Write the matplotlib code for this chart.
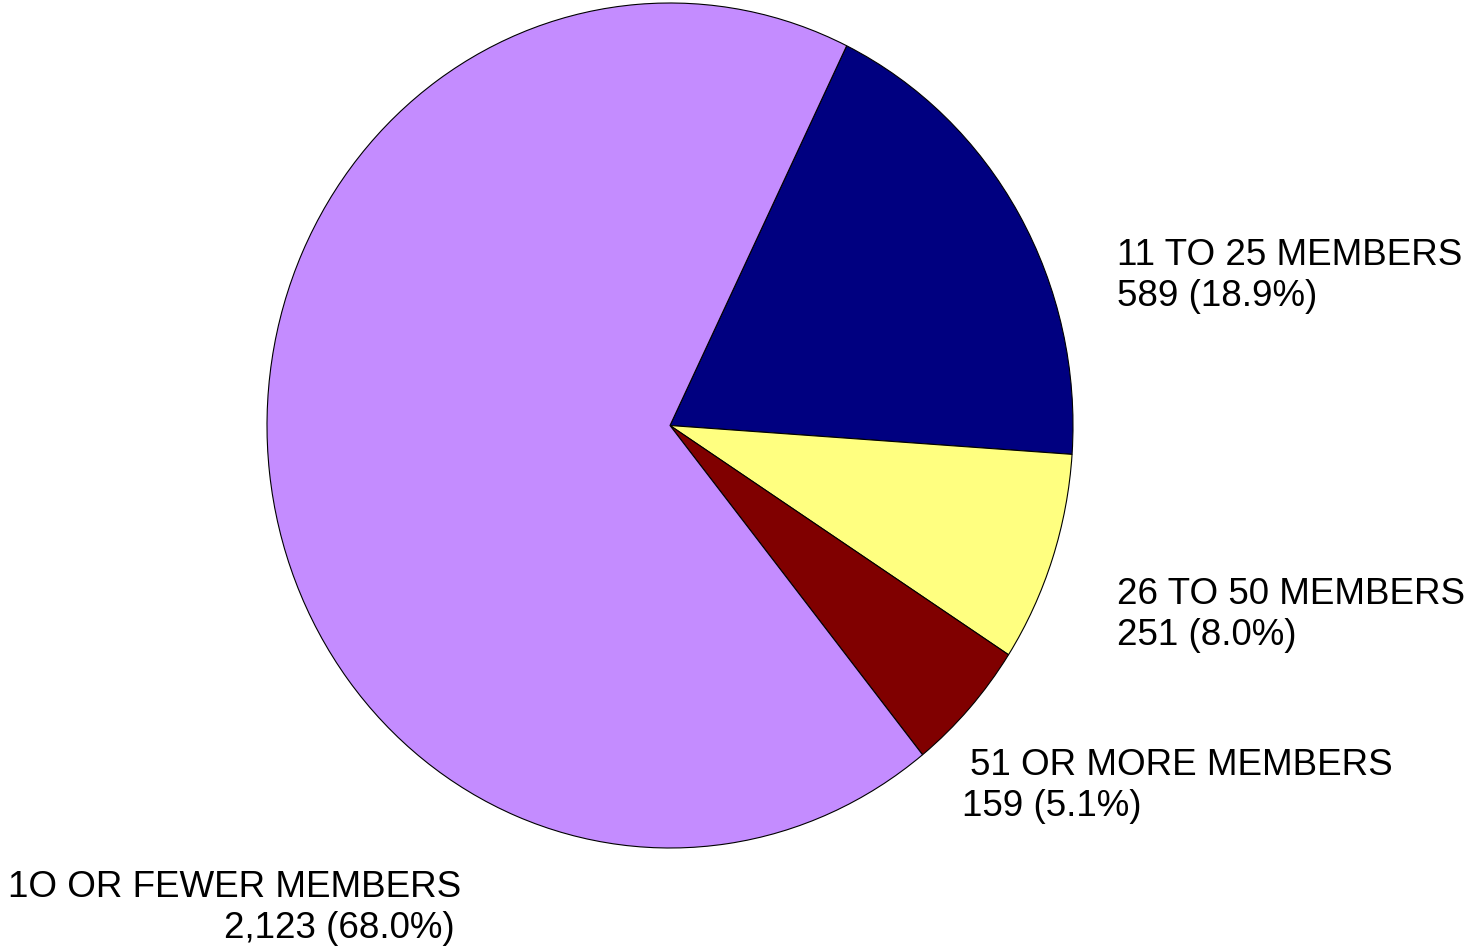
import matplotlib.pyplot as plt

plt.rcParams['font.family'] = ['Liberation Sans', 'DejaVu Sans']

groups = ['11 TO 25 MEMBERS', '26 TO 50 MEMBERS', '51 OR MORE MEMBERS', '1O OR FEWER MEMBERS']
counts = [589, 251, 159, 2123]
colors = ['#000080', '#FFFF80', '#800000', '#C48CFF']

W, H = 1467, 947
fig = plt.figure(figsize=(W / 100, H / 100), dpi=100)

# pie area spans x 267..1073, y 3..848 in pixels
ax = fig.add_axes([267 / W, 1 - 848 / H, (1073 - 267) / W, (848 - 3) / H])
ax.pie(counts, colors=colors, startangle=64, counterclock=False,
       wedgeprops={'edgecolor': 'black', 'linewidth': 0.8})
ax.set_aspect('auto')
ax.set_xlim(-1, 1)
ax.set_ylim(-1, 1)
ax.axis('off')

total = sum(counts)
values = [f"{c:,} ({c / total * 100:.1f}%)" for c in counts]

# (x of name, baseline of name, x of value, align)
spots = [
    (1117, 265, 1117, 'left'),
    (1117, 604, 1117, 'left'),
    (970, 775, 962, 'left'),
    (8, 897, 455, 'right'),
]
fs = 26.5
for name, val, (xn, yn, xv, ha) in zip(groups, values, spots):
    fig.text(xn / W, 1 - yn / H, name, fontsize=fs, ha='left', va='baseline')
    fig.text(xv / W, 1 - (yn + 41) / H, val, fontsize=fs, ha=ha, va='baseline')

fig.savefig('out.png', dpi=100)
